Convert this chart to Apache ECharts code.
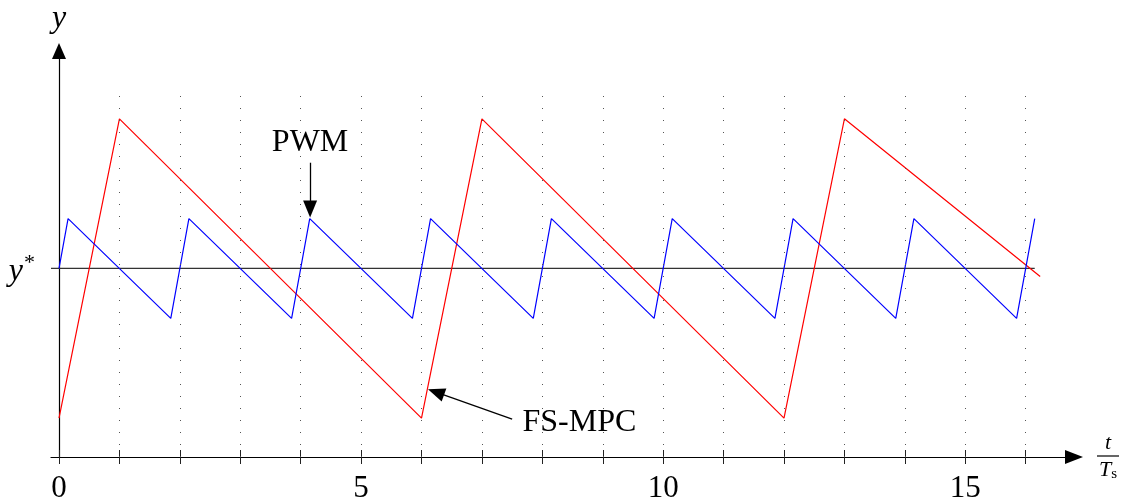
<!DOCTYPE html>
<html><head><meta charset="utf-8">
<script src="https://cdn.jsdelivr.net/npm/echarts@6/dist/echarts.min.js"></script>
<style>html,body{margin:0;padding:0;background:#fff}#c{width:1123px;height:504px}</style>
</head><body><div id="c"></div>
<script>
// ---- data (x in t/Ts, y relative to y*) ----
const fsMpc = [[0,-3],[1,3],[6,-3],[7,3],[12,-3],[13,3],[16.24,-0.16]];
const pwm = [[0,0],[0.15,1],[1.85,-1],[2.15,1],[3.85,-1],[4.15,1],[5.85,-1],[6.15,1],[7.85,-1],[8.15,1],[9.85,-1],[10.15,1],[11.85,-1],[12.15,1],[13.85,-1],[14.15,1],[15.85,-1],[16.15,1]];
const refLine = [[-0.1325,0],[16.15,0]];
const gridXs = [1,2,3,4,5,6,7,8,9,10,11,12,13,14,15,16];
const tickXs = [0,1,2,3,4,5,6,7,8,9,10,11,12,13,14,15,16];
const labelXs = [0,5,10,15];
const gridTop = 3.58;
const pwmArrow = [[4.156,2.12],[4.156,1.19]];
const mpcArrow = [[7.50,-3.02],[6.24,-2.48]];

const X_MIN = -0.1325, X_MAX = 16.80, Y_MIN = -3.78, Y_MAX = 4.36;
const SERIF = '"Liberation Serif", "DejaVu Serif", serif';

const chart = echarts.init(document.getElementById('c'), null, {renderer:'canvas'});
const xBase = {
  type:'value', min:X_MIN, max:X_MAX, position:'bottom',
  splitLine:{show:false}
};
chart.setOption({
  animation:false,
  backgroundColor:'#fff',
  grid:{left:51, right:49, top:51, bottom:46, containLabel:false},
  xAxis:[
    Object.assign({}, xBase, {
      axisLine:{onZero:false, lineStyle:{color:'#000', width:1.2}, symbol:['none','triangle'], symbolSize:[14,18]},
      axisTick:{show:true, inside:false, length:7, lineStyle:{color:'#222', width:1}, customValues:tickXs},
      axisLabel:{show:true, customValues:labelXs, margin:16, color:'#000', fontFamily:SERIF, fontSize:31},
      name:'{t|t}\n{bar| }\n{T|T}{s|s}',
      nameLocation:'end', nameGap:34,
      nameTextStyle:{align:'center', verticalAlign:'middle', rich:{
        t:{fontFamily:SERIF, fontStyle:'italic', fontSize:22, color:'#000', align:'center', lineHeight:22},
        bar:{width:22, height:1.2, lineHeight:4, backgroundColor:'#000', fontSize:1, align:'center'},
        T:{fontFamily:SERIF, fontStyle:'italic', fontSize:22, color:'#000', lineHeight:24},
        s:{fontFamily:SERIF, fontSize:15, color:'#000', verticalAlign:'bottom', lineHeight:24}
      }}
    }),
    Object.assign({}, xBase, {
      axisLine:{show:false, onZero:false},
      axisTick:{show:true, inside:true, length:7, lineStyle:{color:'#222', width:1}, customValues:tickXs},
      axisLabel:{show:false}
    })
  ],
  yAxis:{
    type:'value', min:Y_MIN, max:Y_MAX,
    splitLine:{show:false},
    axisLine:{show:true, onZero:true, lineStyle:{color:'#000', width:1.2}, symbol:['none','triangle'], symbolSize:[14,16]},
    axisTick:{show:false},
    axisLabel:{show:true, customValues:[0], margin:16, formatter:()=>'{i|y}{sup|*}',
      rich:{
        i:{fontFamily:SERIF, fontStyle:'italic', fontSize:32, color:'#000', lineHeight:32, padding:[6,0,0,0]},
        sup:{fontFamily:SERIF, fontSize:22, color:'#000', verticalAlign:'top', lineHeight:32, padding:[0,0,8,1]}
      }},
    name:'y', nameLocation:'end', nameGap:16,
    nameTextStyle:{fontFamily:SERIF, fontStyle:'italic', fontSize:32, color:'#000', align:'center'}
  },
  series:[
    {
      type:'line', xAxisIndex:0, data:refLine, symbol:'none', silent:true,
      lineStyle:{color:'#333', width:1.3}, z:1,
      markLine:{
        silent:true, symbol:['none','none'], label:{show:false},
        lineStyle:{color:'#555', width:1, type:[1,11]},
        data: gridXs.map(k=>[{coord:[k,Y_MIN]},{coord:[k,gridTop]}])
      }
    },
    {
      name:'PWM', type:'line', xAxisIndex:0, data:pwm, symbol:'none', silent:true,
      lineStyle:{color:'#0000ff', width:1.2}, z:3,
      markLine:{
        silent:true, symbol:['none','triangle'], symbolSize:[14,17],
        lineStyle:{color:'#000', width:1.3, type:'solid'},
        label:{show:true, position:'start', distance:4, formatter:'PWM', color:'#000', fontFamily:SERIF, fontSize:32},
        data:[[{coord:pwmArrow[0]},{coord:pwmArrow[1]}]]
      }
    },
    {
      name:'FS-MPC', type:'line', xAxisIndex:0, data:fsMpc, symbol:'none', silent:true,
      lineStyle:{color:'#ff0000', width:1.2}, z:2,
      markLine:{
        silent:true, symbol:['none','triangle'], symbolSize:[14,17],
        lineStyle:{color:'#000', width:1.3, type:'solid'},
        label:{show:true, position:'start', distance:11, formatter:'FS-MPC', color:'#000', fontFamily:SERIF, fontSize:32},
        data:[[{coord:mpcArrow[0]},{coord:mpcArrow[1]}]]
      }
    }
  ]
});
</script></body></html>
